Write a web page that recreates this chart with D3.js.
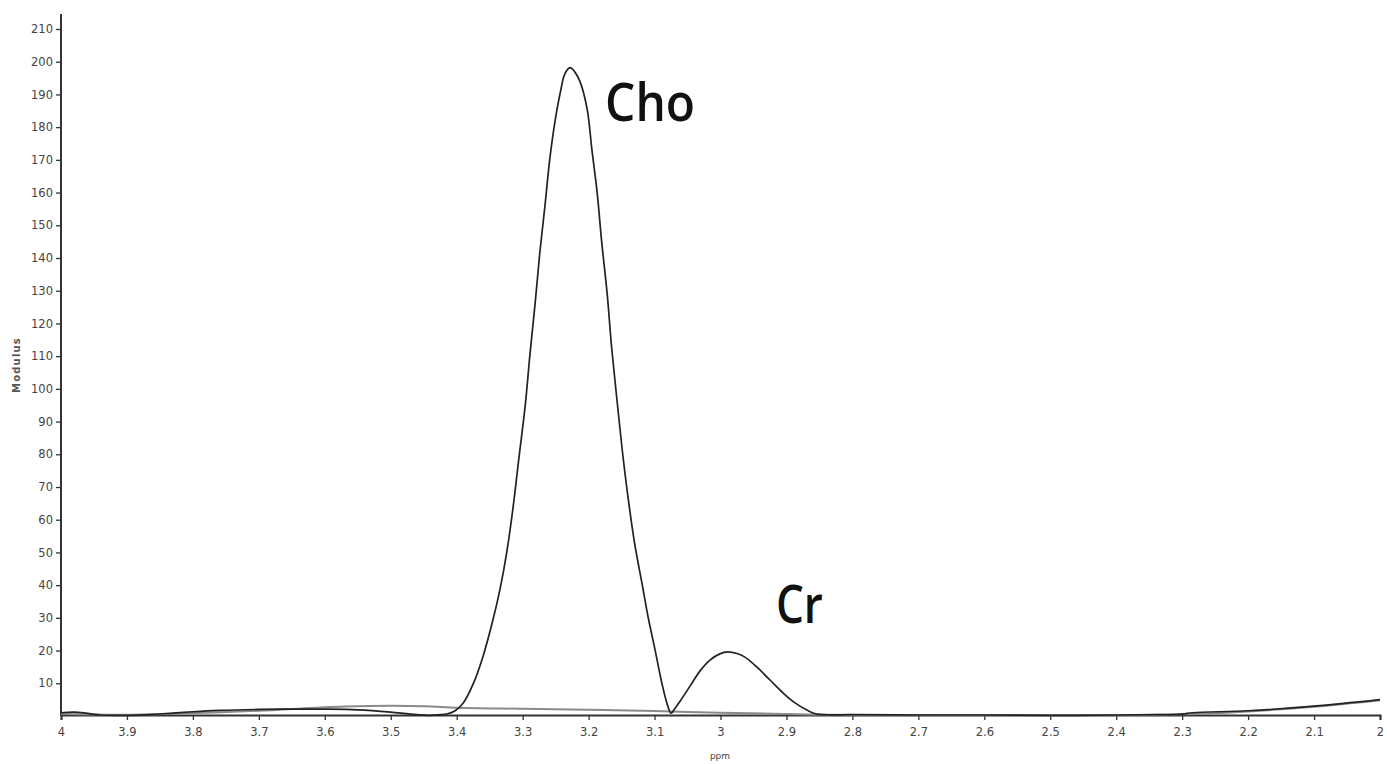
<!DOCTYPE html>
<html><head><meta charset="utf-8">
<script src="https://cdn.jsdelivr.net/npm/d3@7"></script>
<style>html,body{margin:0;padding:0;background:#fff;}svg{display:block;}</style>
</head><body>
<svg id="chart" width="1387" height="764"></svg>
<script>
// Spectrum (ppm, modulus)
const specPpm = [4.00,3.98,3.96,3.94,3.90,3.86,3.83,3.80,3.76,3.70,3.65,3.60,3.55,3.50,3.47,3.44,3.425,3.415,3.403,3.390,3.375,3.360,3.345,3.334,3.324,3.315,3.306,3.296,3.289,3.281,3.274,3.266,3.259,3.251,3.243,3.236,3.228,3.221,3.213,3.202,3.195,3.187,3.180,3.172,3.165,3.157,3.149,3.140,3.130,3.119,3.110,3.099,3.089,3.080,3.075,3.068,3.061,3.046,3.031,3.016,3.001,2.989,2.975,2.963,2.945,2.925,2.905,2.887,2.869,2.854,2.80,2.70,2.60,2.50,2.40,2.34,2.30,2.284,2.20,2.10,2.00];
const specVal = [1.0,1.2,0.8,0.3,0.2,0.5,0.9,1.3,1.7,2.0,2.1,2.1,1.9,1.2,0.6,0.2,0.4,0.6,1.5,4.0,9.8,18.3,29.4,39.1,50.2,63.0,78.3,95.1,110.4,126.3,141.6,156.3,170.0,181.7,190.5,196.3,198.2,196.9,193.9,185.3,173.1,159.9,144.6,129.4,112.5,96.6,81.3,66.5,52.5,40.5,30.5,20.0,10.1,3.1,0.9,2.6,4.6,9.2,13.8,17.1,19.0,19.6,19.1,18.0,15.0,11.0,7.0,4.0,1.8,0.6,0.4,0.3,0.3,0.2,0.3,0.4,0.6,1.0,1.6,3.0,5.0];
// Fitted baseline
const basePpm = [4.0,3.9,3.8,3.7,3.57,3.45,3.40,3.30,3.20,3.10,3.0,2.9,2.8,2.6,2.4,2.3,2.2,2.1,2.0];
const baseVal = [0.6,0.4,0.9,1.6,2.9,3.0,2.5,2.2,1.9,1.5,1.0,0.6,0.3,0.2,0.2,0.5,1.4,2.8,4.8];
// Ticks
const xTicks = [4,3.9,3.8,3.7,3.6,3.5,3.4,3.3,3.2,3.1,3,2.9,2.8,2.7,2.6,2.5,2.4,2.3,2.2,2.1,2];
const yTicks = [10,20,30,40,50,60,70,80,90,100,110,120,130,140,150,160,170,180,190,200,210];
const peakLabels = [{name:"Cho", ppm:3.175, val:182, len:90},{name:"Cr", ppm:2.916, val:28.5, len:47}];

const svg = d3.select("#chart");
const x = d3.scaleLinear().domain([4,2]).range([61,1380]);
const y = d3.scaleLinear().domain([0,210]).range([716,29]);
const axisColor = "#333";
const tickFont = "DejaVu Sans, sans-serif";

// Y axis
const yAxis = svg.append("g").attr("transform","translate(61,0)")
  .call(d3.axisLeft(y).tickValues(yTicks).tickSize(5).tickPadding(3).tickFormat(d3.format("d")));
yAxis.select(".domain").remove();
yAxis.selectAll("line").attr("stroke",axisColor).attr("stroke-width",1.3);
yAxis.selectAll("text").attr("fill","#444").attr("font-family",tickFont).attr("font-size",11.5);
svg.append("line").attr("x1",61).attr("x2",61).attr("y1",y(0)).attr("y2",y(214.6))
  .attr("stroke",axisColor).attr("stroke-width",2);

// X axis
const xAxis = svg.append("g").attr("transform",`translate(0,${y(0)-1})`)
  .call(d3.axisBottom(x).tickValues(xTicks).tickSize(5).tickPadding(8).tickFormat(d => d3.format("")(d)));
xAxis.select(".domain").attr("stroke",axisColor).attr("stroke-width",2);
xAxis.selectAll("line").attr("stroke",axisColor).attr("stroke-width",1.3);
xAxis.selectAll("text").attr("fill","#444").attr("font-family",tickFont).attr("font-size",11.5);

// Axis titles
svg.append("text").attr("x",720).attr("y",759).attr("text-anchor","middle")
  .attr("font-family",tickFont).attr("font-size",9).attr("fill","#444").text("ppm");
svg.append("text").attr("transform","translate(20,365) rotate(-90)").attr("text-anchor","middle")
  .attr("font-family",tickFont).attr("font-size",10).attr("font-weight","bold")
  .attr("letter-spacing",1.2).attr("fill","#555").text("Modulus");

// Lines
const line = d3.line().x(d => x(d[0])).y(d => y(d[1])).curve(d3.curveCatmullRom.alpha(0.5));
const baseData = basePpm.map((p,i)=>[p,baseVal[i]]);
const specData = specPpm.map((p,i)=>[p,specVal[i]]);
svg.append("path").datum(baseData).attr("d",line).attr("fill","none")
  .attr("stroke","#8a8a8a").attr("stroke-width",2);
svg.append("path").datum(specData).attr("d",line).attr("fill","none")
  .attr("stroke","#222").attr("stroke-width",1.7).attr("stroke-linejoin","round");

// Peak labels
svg.selectAll("text.peak").data(peakLabels).enter().append("text").attr("class","peak")
  .attr("x",d=>x(d.ppm)).attr("y",d=>y(d.val))
  .attr("font-family","Open Sans, sans-serif").attr("font-size",52).attr("font-weight",600)
  .attr("fill","#111").attr("textLength",d=>d.len).attr("lengthAdjust","spacingAndGlyphs")
  .text(d=>d.name);
</script>
</body></html>
